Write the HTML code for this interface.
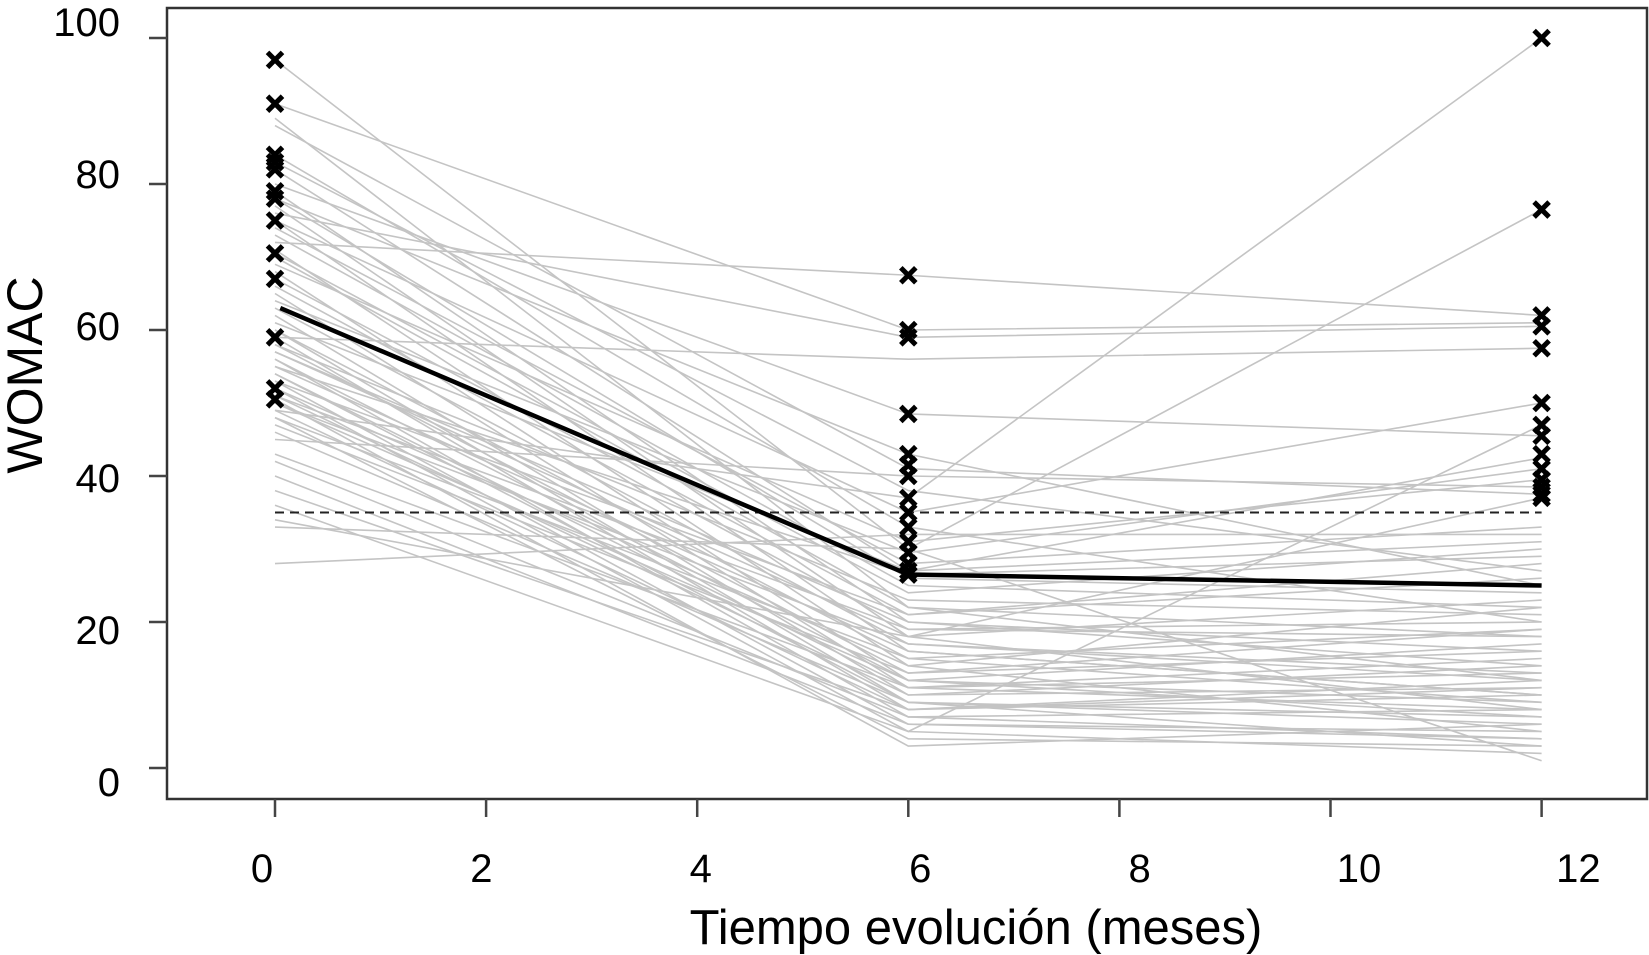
<!DOCTYPE html>
<html><head><meta charset="utf-8"><style>
html,body{margin:0;padding:0;background:#fff;}
svg{display:block;font-family:"Liberation Sans",sans-serif;}
</style></head><body>
<svg id="chart" width="1649" height="955" viewBox="0 0 1649 955" xmlns="http://www.w3.org/2000/svg">
<g id="lines"></g>
<g id="marks"></g>
<g id="axes"></g>
<text x="976" y="944" font-size="49" text-anchor="middle" fill="#000">Tiempo evolución (meses)</text>
<text transform="translate(42,375) rotate(-90)" font-size="50" text-anchor="middle" fill="#000">WOMAC</text>
</svg>
<script>
const xTicks=[0,2,4,6,8,10,12];
const yTicks=[0,20,40,60,80,100];
const times=[0,6,12];
const base=[97,91,89,88,84,83,82,80,79,78,78,77,76,75,75,74,73,72,71,70.5,70,69,68,67,66,65,64,63,62,61,60,60,59,59,58,58,57,57,56,56,55,55,54,54,53,53,52,52,51,51,50.5,50,50,49,49,48,48,47,46,45,43,42,40,38,36,34,33,28];
const m6=[30,60,22,41,33,38,27,48.5,20,26,43,18,59,35,16,28,25,67.5,14,24,22,31,12,21,19,11,29.5,17,10,27,15,9,8,56,23,13,20,18,7,12,26.5,16,9,11,21,6,14,5,19,10,3,17,12,37,8,15,4,13,9,40,11,7,6,8,5,18,30,32];
const m12=[1,61,12,37.5,20,27,42.5,45.5,16,24,25,8,60.5,50,10,33,22,62,5,30,18,39.5,7,28,20,15,41,13,11,31,9,6,12,57.5,21,19,14,23,4,17,29,10,3,8,26,5,22,2,18,14,6,12,9,100,11,19,3,16,7,38.5,13,8,4,10,47,37,76.5,32];
const crossB=[97,91,84,83,82,79,78,75,70.5,67,59,52,50.5];
const crossM6=[67.5,60,59,48.5,43,41.5,40,37,35,33,31,29.5,28,27,26.5];
const crossM12=[100,76.5,62,60.5,57.5,50,47,45.5,43,41,39.5,38.5,37.5,37];
const meanT=[0.05,6,12];
const meanV=[63,26.5,25];
const threshold=35;

const NS="http://www.w3.org/2000/svg";
const X=v=>275+v*105.55;
const Y=v=>768-v*7.3;
const LX=v=>262+v*109.7;
const LY=v=>782-v*7.6;
function mk(tag,attrs,parent){const e=document.createElementNS(NS,tag);for(const k in attrs)e.setAttribute(k,attrs[k]);parent.appendChild(e);return e;}
const gL=document.getElementById('lines'),gM=document.getElementById('marks'),gA=document.getElementById('axes');
for(let i=0;i<base.length;i++){
  const p=mk('polyline',{points:`${X(times[0])},${Y(base[i])} ${X(times[1])},${Y(m6[i])} ${X(times[2])},${Y(m12[i])}`,fill:'none',stroke:'#c4c4c4','stroke-width':1.6},gL);
  
  
}
const th=mk('line',{x1:X(0),x2:X(12),y1:Y(threshold),y2:Y(threshold),stroke:'#222','stroke-width':2,'stroke-dasharray':'9,6'},gM);


const mp=mk('polyline',{points:meanT.map((t,i)=>`${X(t)},${Y(meanV[i])}`).join(' '),fill:'none',stroke:'#000','stroke-width':4.5},gM);


function cross(t,v){const x=X(t),y=Y(v),s=7.5;
  const c=mk('path',{d:`M${x-s},${y-s}L${x+s},${y+s}M${x-s},${y+s}L${x+s},${y-s}`,stroke:'#000','stroke-width':5,fill:'none'},gM);
  
  }
crossB.forEach(v=>cross(0,v));crossM6.forEach(v=>cross(6,v));crossM12.forEach(v=>cross(12,v));
const box=mk('rect',{x:167,y:8,width:1480,height:791,fill:'none',stroke:'#333','stroke-width':2.5},gA);


xTicks.forEach(v=>{
  const t=mk('line',{x1:X(v),x2:X(v),y1:799,y2:817,stroke:'#444','stroke-width':2.5},gA);
  
  
  const l=mk('text',{x:LX(v),y:882,'font-size':40,'text-anchor':'middle',fill:'#000'},gA);l.textContent=v;
  
  
});
yTicks.forEach(v=>{
  const t=mk('line',{x1:149,x2:167,y1:Y(v),y2:Y(v),stroke:'#444','stroke-width':2.5},gA);
  
  
  const l=mk('text',{x:120,y:LY(v)+14,'font-size':40,'text-anchor':'end',fill:'#000'},gA);l.textContent=v;
  
  
});
</script>
</body></html>
